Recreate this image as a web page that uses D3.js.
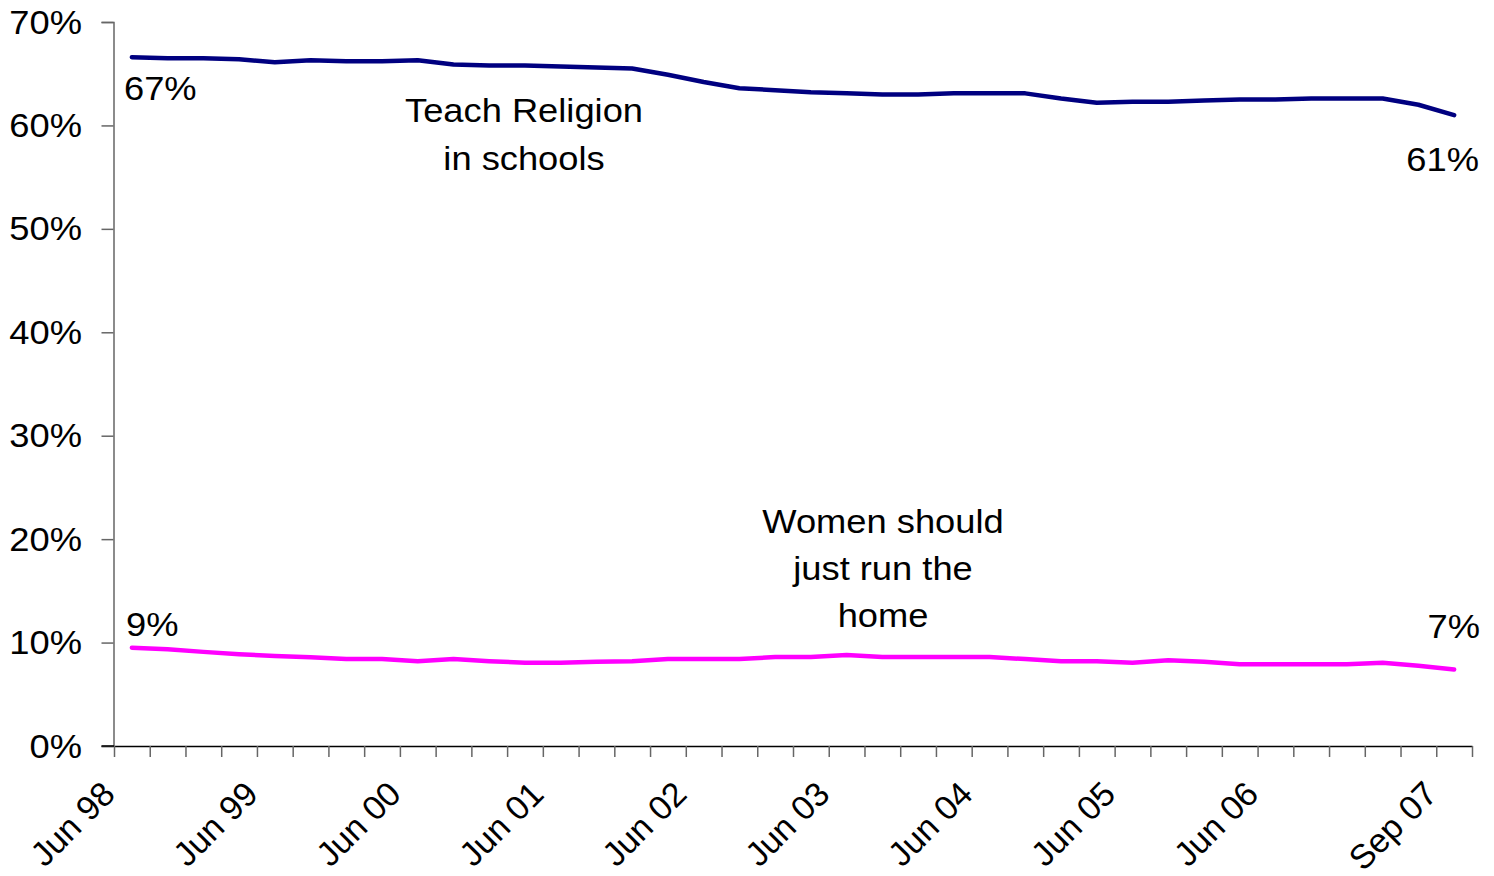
<!DOCTYPE html>
<html>
<head>
<meta charset="utf-8">
<script src="https://cdn.jsdelivr.net/npm/d3@7"></script>
<style>
  html, body { margin: 0; padding: 0; background: #fff; }
  svg { display: block; }
  text { font-family: "Liberation Sans", Arial, sans-serif; fill: #000; }
</style>
</head>
<body>
<svg id="chart" width="1494" height="876"></svg>
<script>
// ---- data ----
const categories = [
  "Jun 98","Sep 98","Dec 98","Mar 99","Jun 99","Sep 99","Dec 99","Mar 00",
  "Jun 00","Sep 00","Dec 00","Mar 01","Jun 01","Sep 01","Dec 01","Mar 02",
  "Jun 02","Sep 02","Dec 02","Mar 03","Jun 03","Sep 03","Dec 03","Mar 04",
  "Jun 04","Sep 04","Dec 04","Mar 05","Jun 05","Sep 05","Dec 05","Mar 06",
  "Jun 06","Sep 06","Dec 06","Mar 07","Jun 07","Sep 07"
];
const shownLabels = ["Jun 98","Jun 99","Jun 00","Jun 01","Jun 02","Jun 03","Jun 04","Jun 05","Jun 06","Sep 07"];
const teachReligion = [66.6,66.5,66.5,66.4,66.1,66.3,66.2,66.2,66.3,65.9,65.8,65.8,65.7,65.6,65.5,64.9,
  64.2,63.6,63.4,63.2,63.1,63.0,63.0,63.1,63.1,63.1,62.6,62.2,62.3,62.3,62.4,62.5,62.5,62.6,62.6,62.6,62.0,61.0];
const womenHome = [9.5,9.35,9.1,8.87,8.7,8.57,8.4,8.4,8.2,8.4,8.2,8.05,8.05,8.15,8.2,8.4,
  8.4,8.4,8.6,8.6,8.8,8.6,8.6,8.6,8.6,8.4,8.2,8.2,8.05,8.3,8.15,7.9,7.9,7.9,7.9,8.05,7.75,7.4];
const yTicks = [0,10,20,30,40,50,60,70];

// ---- layout ----
const svg = d3.select("#chart");
const FS = 33, SX = 1.1;
const x = d3.scaleBand().domain(d3.range(categories.length)).range([114, 1472]).padding(0);
const xEdge = d3.scaleLinear().domain([0, categories.length]).range([114, 1472]);
const y = d3.scaleLinear().domain([0, 70]).range([746, 22]);
const cx = i => x(i) + x.bandwidth() / 2;

function label(txt, px, py, anchor) {
  svg.append("g").attr("transform", `translate(${px},${py}) scale(${SX},1)`)
    .append("text").attr("text-anchor", anchor || "start")
    .style("font-size", FS + "px").text(txt);
}

// y axis
const yAxis = svg.append("g").attr("transform", "translate(113.5,0)")
  .call(d3.axisLeft(y).tickValues(yTicks).tickSize(12).tickFormat(""));
yAxis.select(".domain").attr("stroke", "#666").attr("stroke-width", 1.5);
yAxis.selectAll(".tick line").attr("stroke", "#666").attr("stroke-width", 1.5);
yTicks.forEach(v => label(v + "%", 82, y(v) + 11.5, "end"));

// x axis
const xAxis = svg.append("g").attr("transform", "translate(0,746)")
  .call(d3.axisBottom(xEdge).tickValues(d3.range(categories.length + 1)).tickSize(11).tickSizeOuter(0).tickFormat(""));
xAxis.select(".domain").attr("stroke", "#000").attr("stroke-width", 1.5);
xAxis.selectAll(".tick line").attr("stroke", "#666").attr("stroke-width", 1.5);
svg.append("line").attr("x1", 101.5).attr("x2", 114).attr("y1", 746).attr("y2", 746)
  .attr("stroke", "#000").attr("stroke-width", 1.5);

categories.forEach((c, i) => {
  if (shownLabels.includes(c)) {
    svg.append("text")
      .attr("transform", `translate(${cx(i) - 15},${796}) rotate(-45)`)
      .attr("text-anchor", "end")
      .style("font-size", "34px")
      .text(c);
  }
});

// lines
const line = d3.line().x((d, i) => cx(i)).y(d => y(d));
svg.append("path").datum(teachReligion).attr("d", line)
  .attr("fill", "none").attr("stroke", "#000080").attr("stroke-width", 4.5)
  .attr("stroke-linejoin", "round").attr("stroke-linecap", "round");
svg.append("path").datum(womenHome).attr("d", line)
  .attr("fill", "none").attr("stroke", "#FF00FF").attr("stroke-width", 4.5)
  .attr("stroke-linejoin", "round").attr("stroke-linecap", "round");

// annotations
label("67%", 124, 100, "start");
label("61%", 1479, 171, "end");
label("9%", 126, 636, "start");
label("7%", 1480, 638, "end");
label("Teach Religion", 524, 122, "middle");
label("in schools", 524, 170, "middle");
label("Women should", 883, 533, "middle");
label("just run the", 883, 580, "middle");
label("home", 883, 627, "middle");
</script>
</body>
</html>
